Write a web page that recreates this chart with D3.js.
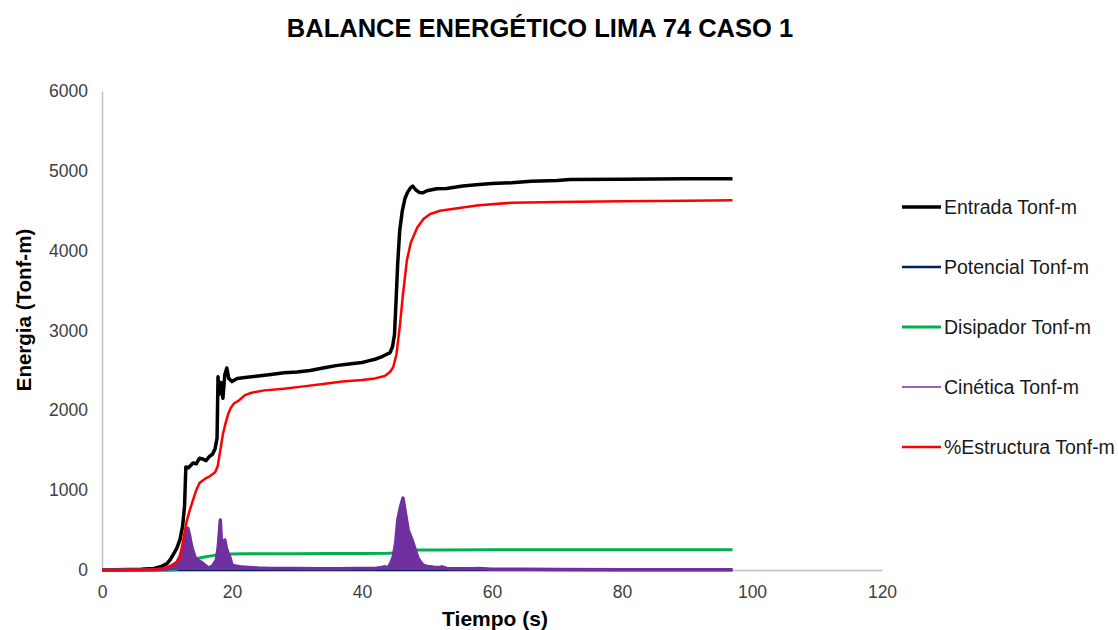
<!DOCTYPE html>
<html><head><meta charset="utf-8">
<script src="https://cdn.jsdelivr.net/npm/d3@7"></script>
<style>
body{margin:0;background:#fff;}
text{font-family:"Liberation Sans",Arial,sans-serif;}
</style></head>
<body><svg id="c" width="1118" height="630"></svg>
<script>
const title = "BALANCE ENERGÉTICO LIMA 74 CASO 1";
const xTitle = "Tiempo (s)";
const yTitle = "Energia (Tonf-m)";
const xTicks = [0,20,40,60,80,100,120];
const yTicks = [0,1000,2000,3000,4000,5000,6000];
const seriesNames = ["Entrada Tonf-m","Potencial Tonf-m","Disipador Tonf-m","Cinética Tonf-m","%Estructura Tonf-m"];
const seriesColors = ["#000000","#002060","#00b050","#7030a0","#ff0000"];

const entradaT = [0,2,4,6,8,9,10,10.5,11,11.5,12,12.4,12.7,12.9,13.3,14,14.5,15,15.5,16,16.5,17,17.4,17.7,17.85,18,18.3,18.6,18.9,19.2,19.5,20,20.8,22,24,26,28,30,32,34,36,38,40,41,42,43,43.5,44,44.3,44.7,45,45.2,45.5,45.8,46.2,46.6,47,47.5,47.8,48.3,48.8,49.4,50,51.5,53,55.5,58,60,63,66,70,72,80,90,97];
const entradaV = [0,2,5,10,20,40,80,130,200,270,380,550,800,1290,1280,1340,1330,1400,1390,1370,1420,1450,1520,1650,2420,2200,2350,2150,2450,2530,2400,2360,2400,2410,2430,2450,2470,2480,2500,2530,2560,2580,2600,2620,2640,2670,2690,2710,2720,2800,2950,3300,3850,4250,4500,4650,4730,4790,4810,4760,4730,4725,4750,4775,4780,4810,4830,4840,4850,4870,4880,4890,4895,4900,4900];

const potencialT = [0,20,40,60,80,97];
const potencialV = [0,0,0,0,0,0];

const disipadorT = [0,11,12,13,14,15,16,17,18,19,20,22,25,30,35,40,44,44.8,45.5,46.5,47.5,49,52,60,70,80,97];
const disipadorV = [0,0,20,80,130,150,165,180,190,195,200,205,205,205,207,208,210,212,225,245,250,252,252,253,254,255,255];

const cineticaT = [0,8,10,10.5,11,11.5,12,12.5,12.8,13.2,13.5,13.8,14.3,14.8,15.4,16,16.3,16.8,17.1,17.6,17.9,18.2,18.4,18.6,18.9,19.1,19.4,19.7,20,20.5,21.2,22,24,26,28,30,33,36,39,42,43,43.5,44,44.4,44.8,45.2,45.5,45.9,46.3,46.6,47.1,47.7,48.2,48.6,49,49.4,50,50.5,51,52,52.3,53,55,57,58,60,65,70,80,90,97];
const cineticaV = [0,2,10,30,60,90,170,290,380,525,420,290,160,120,90,50,25,40,60,125,300,625,300,160,375,280,210,150,60,50,40,35,25,20,18,20,15,15,18,20,30,40,25,80,160,350,625,780,900,750,500,375,250,150,100,60,45,40,35,30,40,20,15,15,20,10,8,5,3,2,2];

const estructuraT = [0,4,8,9.5,10.5,11.5,12,12.5,13,13.5,14,14.5,15,15.5,16,16.5,17,17.4,17.8,18.2,18.6,19,19.4,19.8,20.3,21,22,23,25,28,31,34,37,40,42,43.5,44.3,44.8,45.3,45.8,46.3,46.9,47.5,48.5,49.5,50.5,52,55.5,58,63,70,80,90,97];
const estructuraV = [0,0,5,20,50,100,160,375,600,750,875,1000,1090,1120,1150,1170,1200,1225,1300,1500,1700,1837,1950,2030,2087,2120,2190,2220,2250,2270,2300,2330,2360,2380,2400,2430,2480,2540,2700,3040,3450,3875,4100,4290,4400,4460,4500,4540,4570,4600,4610,4620,4625,4630];

const svg = d3.select("#c");
const L=102, R=882, T=91, B=570;
const x = d3.scaleLinear().domain([0,120]).range([L,R]);
const y = d3.scaleLinear().domain([0,6000]).range([B,T]);

svg.append("text").attr("x",540).attr("y",37).attr("text-anchor","middle")
  .attr("font-size",25.5).attr("font-weight","bold").attr("fill","#000").text(title);

// axes
const gx = svg.append("g").attr("transform",`translate(0,${B})`)
  .call(d3.axisBottom(x).tickValues(xTicks).tickFormat(d3.format("d")).tickSize(0).tickPadding(12));
const gy = svg.append("g").attr("transform",`translate(${L},0)`)
  .call(d3.axisLeft(y).tickValues(yTicks).tickFormat(d3.format("d")).tickSize(0).tickPadding(14));
[gx,gy].forEach(g=>{
  g.select(".domain").attr("stroke","#bfbfbf").attr("stroke-width",1.5);
  g.selectAll("text").attr("font-size",17.5).attr("fill","#404040").attr("font-family","Liberation Sans, Arial, sans-serif");
});
gx.selectAll("text").attr("dy","0.9em");

svg.append("text").attr("x",495).attr("y",626).attr("text-anchor","middle")
  .attr("font-size",21).attr("font-weight","bold").text(xTitle);
svg.append("text").attr("transform","translate(31,310) rotate(-90)").attr("text-anchor","middle")
  .attr("font-size",20.5).attr("font-weight","bold").text(yTitle);

const mk = (ts,vs)=>ts.map((t,i)=>[t,vs[i]]);
const line = d3.line().x(d=>x(d[0])).y(d=>y(d[1]));
const area = d3.area().x(d=>x(d[0])).y0(y(0)).y1(d=>y(d[1]));

const plot = svg.append("g");
plot.append("path").datum(mk(entradaT,entradaV)).attr("d",line)
  .attr("fill","none").attr("stroke",seriesColors[0]).attr("stroke-width",3.5).attr("stroke-linejoin","round");
plot.append("path").datum(mk(potencialT,potencialV)).attr("d",line)
  .attr("fill","none").attr("stroke",seriesColors[1]).attr("stroke-width",2.5);
plot.append("path").datum(mk(disipadorT,disipadorV)).attr("d",line)
  .attr("fill","none").attr("stroke",seriesColors[2]).attr("stroke-width",3).attr("stroke-linejoin","round");
const kin = mk(cineticaT,cineticaV);
plot.append("path").datum(kin).attr("d",area).attr("fill",seriesColors[3]);
plot.append("path").datum(kin).attr("d",line)
  .attr("fill","none").attr("stroke",seriesColors[3]).attr("stroke-width",3.5).attr("stroke-linejoin","round");
plot.append("path").datum(mk(estructuraT,estructuraV)).attr("d",line)
  .attr("fill","none").attr("stroke",seriesColors[4]).attr("stroke-width",2.5).attr("stroke-linejoin","round");

// legend
const lg = svg.append("g");
const lw = [3.5,2.5,3,1.5,2.5];
seriesNames.forEach((n,i)=>{
  const yy = 207 + i*60;
  lg.append("line").attr("x1",902).attr("x2",941).attr("y1",yy).attr("y2",yy)
    .attr("stroke",seriesColors[i]).attr("stroke-width",lw[i]);
  lg.append("text").attr("x",944).attr("y",yy).attr("dy","0.35em")
    .attr("font-size",19.5).attr("fill","#1a1a1a").text(n);
});
</script></body></html>
